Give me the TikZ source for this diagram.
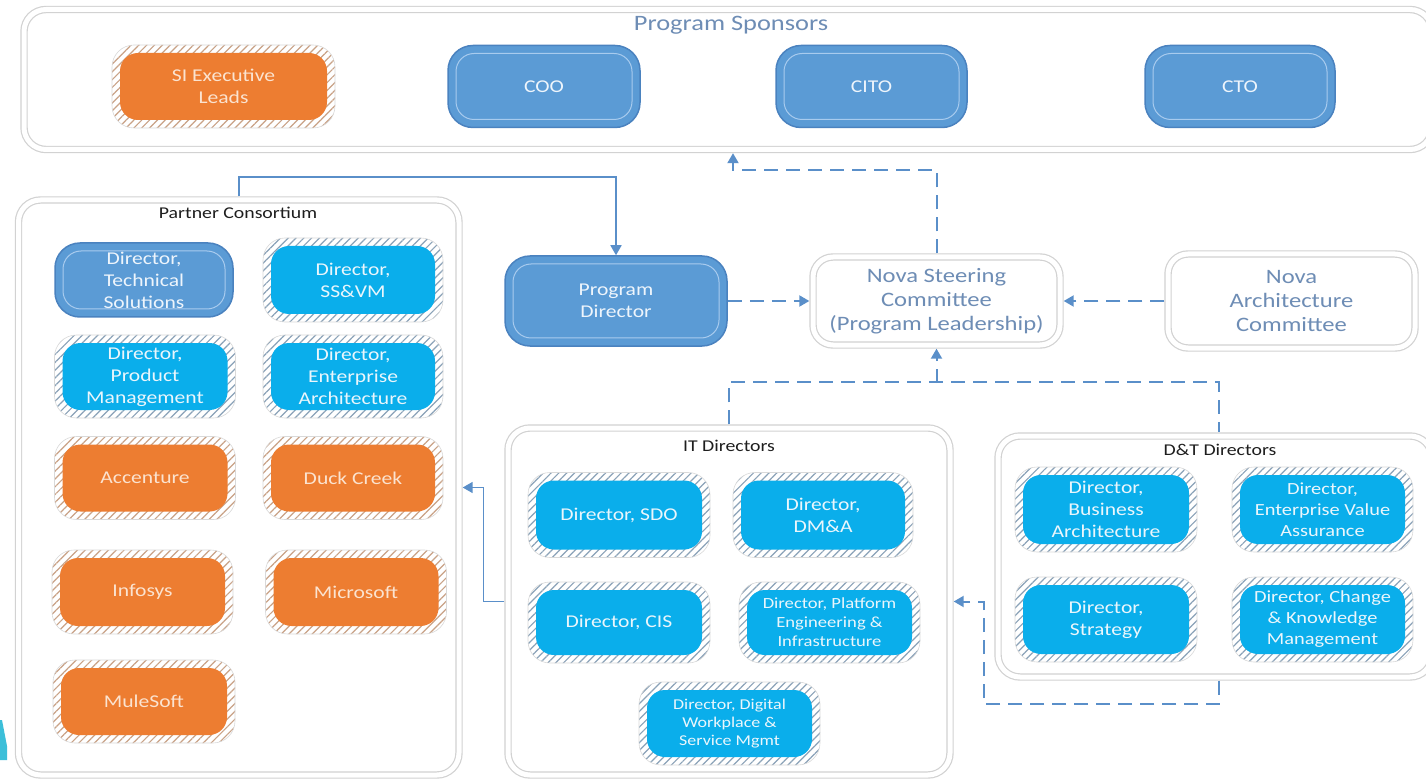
\documentclass[tikz,border=0pt]{standalone}
\usepackage{fontspec}
\setmainfont{Carlito}[FakeStretch=1.2]
\usetikzlibrary{arrows.meta,patterns.meta}
\definecolor{orangefill}{HTML}{ED7D31}
\definecolor{orangetext}{HTML}{FBE3D0}
\definecolor{orangestripe}{HTML}{C9A286}
\definecolor{cyanfill}{HTML}{0AAEEB}
\definecolor{cyantext}{HTML}{EAF6FC}
\definecolor{cyanstripe}{HTML}{8AA2B8}
\definecolor{bluefill}{HTML}{5B9BD5}
\definecolor{blueedge}{HTML}{4A82BF}
\definecolor{blueline}{HTML}{A8CBEE}
\definecolor{bluetext}{HTML}{EEF5FC}
\definecolor{contgray}{HTML}{D2D2D2}
\definecolor{novatext}{HTML}{6E8DB5}
\definecolor{connblue}{HTML}{5A8FC9}
\definecolor{titletext}{HTML}{1E1E1E}
\definecolor{cornercyan}{HTML}{3CBFD9}
\newcommand\fszMain{\fontsize{18}{22}\selectfont}
\newcommand\fszSmall{\fontsize{15.5}{19}\selectfont}
\newcommand\fszMid{\fontsize{17}{21}\selectfont}
\newcommand\fszNova{\fontsize{20.5}{24}\selectfont}
\newcommand\fszTitle{\fontsize{22}{26}\selectfont}
\newcommand\fszCont{\fontsize{16.5}{19}\selectfont}
\tikzset{
  base/.style={inner sep=0pt, align=center, font=\fszMain},
  ring/.style={base, rounded corners=22pt, preaction={fill=white},
    pattern={Lines[angle=45,distance=5.5pt,line width=1.2pt]},
    draw=black!15, line width=0.6pt},
  cyanbox/.style={ring, pattern color=cyanstripe, text=cyantext,
    path picture={\fill[cyanfill, rounded corners=18pt]
      ([shift={(8pt,8pt)}]path picture bounding box.south west) rectangle
      ([shift={(-8pt,-8pt)}]path picture bounding box.north east);}},
  orangebox/.style={ring, pattern color=orangestripe, text=orangetext,
    path picture={\fill[orangefill, rounded corners=18pt]
      ([shift={(8pt,8pt)}]path picture bounding box.south west) rectangle
      ([shift={(-8pt,-8pt)}]path picture bounding box.north east);}},
  bluebox/.style={base, rounded corners=25pt, fill=bluefill, draw=blueedge,
    line width=1.5pt, text=bluetext,
    path picture={\draw[blueline, line width=1pt, rounded corners=18pt]
      ([shift={(8pt,8pt)}]path picture bounding box.south west) rectangle
      ([shift={(-8pt,-8pt)}]path picture bounding box.north east);}},
  cont/.style={inner sep=0pt, draw=contgray, line width=1.2pt, double=white,
    double distance=5pt, rounded corners=22pt, fill=white, outer sep=3.7pt},
  novabox/.style={cont, rounded corners=20pt, align=center, font=\fszNova, text=novatext},
  conttitle/.style={inner sep=0pt, font=\fszCont, text=titletext},
  conn/.style={draw=connblue, line width=1.6pt},
  dconn/.style={draw=connblue, line width=2pt, dash pattern=on 14pt off 8pt},
  tip/.style={-{Triangle[length=10pt,width=11pt]}}
}
\begin{document}
\begin{tikzpicture}[x=1pt,y=-1pt]
\useasboundingbox (0,0) rectangle (1426,783);
\fill[white] (0,0) rectangle (1426,783);
\fill[cornercyan] (0,720) -- (2,720) -- (7,746) -- (7,760) -- (0,760) -- cycle;

% Program sponsors
\node[cont, minimum width=1408pt, minimum height=140pt] (spons) at (728,79.5) {};
\node[inner sep=0pt, font=\fszTitle, text=novatext] (sponsT) at (731,25) {Program Sponsors};
\node[orangebox, minimum width=223pt, minimum height=83pt] (si) at (223.5,86.5) {SI Executive\\Leads};
\node[bluebox, minimum width=192pt, minimum height=82pt] (coo) at (544,86.5) {COO};
\node[bluebox, minimum width=191pt, minimum height=82pt] (cito) at (871.5,86.5) {CITO};
\node[bluebox, minimum width=190pt, minimum height=82pt] (cto) at (1240,86.5) {CTO};

% Partner consortium
\node[cont, minimum width=440.5pt, minimum height=575pt] (partner) at (238.75,487.5) {};
\node[conttitle] (partnerT) at (238,213) {Partner Consortium};
\node[bluebox, minimum width=178pt, minimum height=74pt] (techsol) at (144,280) {Director,\\Technical\\Solutions};
\node[cyanbox, minimum width=180pt, minimum height=84pt] (ssvm) at (353,280) {Director,\\SS\&VM};
\node[cyanbox, minimum width=181pt, minimum height=83pt] (prodm) at (145,376.5) {Director,\\Product\\Management};
\node[cyanbox, minimum width=180pt, minimum height=83pt] (entarch) at (353,376.5) {Director,\\Enterprise\\Architecture};
\node[orangebox, minimum width=181pt, minimum height=83pt] (acc) at (145,478) {Accenture};
\node[orangebox, minimum width=180pt, minimum height=83pt] (duck) at (353,478) {Duck Creek};
\node[orangebox, minimum width=181pt, minimum height=84pt] (infosys) at (142.5,592) {Infosys};
\node[orangebox, minimum width=181pt, minimum height=84pt] (msft) at (356,592) {Microsoft};
\node[orangebox, minimum width=182pt, minimum height=83pt] (mule) at (144,701.5) {MuleSoft};

% Middle row
\node[bluebox, minimum width=222pt, minimum height=90pt] (pd) at (616,301) {Program\\Director};
\node[novabox, minimum width=247pt, minimum height=88pt] (steer) at (936.5,301) {Nova Steering\\Committee\\(Program Leadership)};
\node[novabox, minimum width=247pt, minimum height=94pt] (arch) at (1291.5,301) {Nova\\Architecture\\Committee};

% IT directors
\node[cont, minimum width=442pt, minimum height=347pt] (it) at (729,601.5) {};
\node[conttitle] (itT) at (729,446) {IT Directors};
\node[cyanbox, minimum width=182pt, minimum height=85pt] (sdo) at (619,515) {Director, SDO};
\node[cyanbox, minimum width=180pt, minimum height=85pt] (dma) at (823,515) {Director,\\DM\&A};
\node[cyanbox, minimum width=182pt, minimum height=81pt] (cis) at (619,622.5) {Director, CIS};
\node[cyanbox, minimum width=181pt, minimum height=81pt, font=\fszSmall] (plat) at (829.5,622.5) {Director, Platform\\Engineering \&\\Infrastructure};
\node[cyanbox, minimum width=181pt, minimum height=83pt, font=\fontsize{15}{18}\selectfont] (dwp) at (729.5,723.5) {Director, Digital\\Workplace \&\\Service Mgmt};

% D&T directors
\node[cont, minimum width=434pt, minimum height=241pt] (dt) at (1215,556.5) {};
\node[conttitle] (dtT) at (1220,450) {D\&T Directors};
\node[cyanbox, minimum width=182pt, minimum height=85pt] (busarch) at (1106,509.5) {Director,\\Business\\Architecture};
\node[cyanbox, minimum width=181pt, minimum height=85pt, font=\fszMid] (eva) at (1322.5,509.5) {Director,\\Enterprise Value\\Assurance};
\node[cyanbox, minimum width=182pt, minimum height=85pt] (strat) at (1106,619.5) {Director,\\Strategy};
\node[cyanbox, minimum width=181pt, minimum height=85pt, font=\fszMid] (ckm) at (1322.5,619.5) {Director, Change\\\& Knowledge\\Management};

% Connectors
\draw[conn, tip] (partner.north) -- ++(0,-19) -| (pd.north);
\draw[conn, tip] (it.west) -- ++(-21,0) |- (partner.east);
\draw[dconn, tip] (pd.east) -- (steer.west);
\draw[dconn, tip] (arch.west) -- (steer.east);
\draw[dconn, tip] (steer.north) -- ++(0,-83) -| ([xshift=5pt]spons.south);
\draw[dconn] (it.north) -- ++(0,-42) -| ([xshift=4pt]dt.north);
\coordinate (itjoin) at (steer.south |- 0,383);
\draw[dconn, tip] (itjoin) -- (steer.south);
\draw[dconn, tip] ([xshift=4pt]dt.south) -- ++(0,23) -| ([xshift=30pt]it.east) -- (it.east);
\end{tikzpicture}
\end{document}
